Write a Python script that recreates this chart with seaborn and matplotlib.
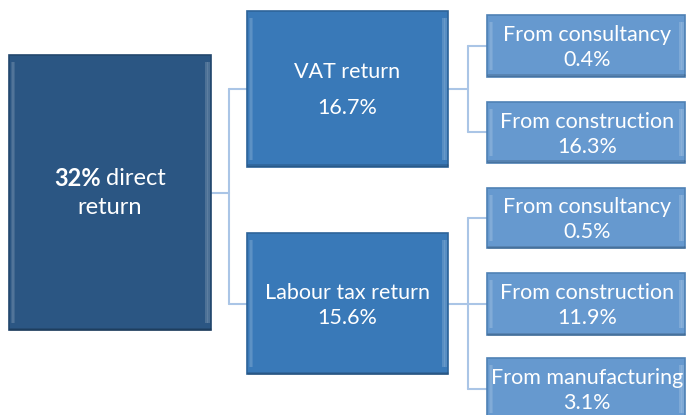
import matplotlib
matplotlib.use("Agg")
import matplotlib.pyplot as plt
import seaborn as sns
from matplotlib.patches import Rectangle

# values
root_value = 32
root_label = "direct\nreturn"
mid_labels = ["VAT return", "Labour tax return"]
mid_values = [16.7, 15.6]
leaf_labels = ["From consultancy", "From construction",
               "From consultancy", "From construction", "From manufacturing"]
leaf_values = [0.4, 16.3, 0.5, 11.9, 3.1]
leaf_parent = [0, 0, 1, 1, 1]

# layout in pixels (x0, y0, x1, y1)
root_box = (9, 55, 211, 330)
mid_boxes = [(247, 11, 448, 167), (247, 233, 448, 374)]
mid_text_dy = [(-17, 19), (-11, 14)]
leaf_boxes = [(487, 15, 685, 77), (487, 102, 685, 163),
              (487, 188, 685, 248), (487, 273, 685, 335),
              (487, 358, 685, 420)]

root_color = "#2b5683"
mid_color = "#3979b8"
leaf_color = "#6699cf"
line_color = "#aac5e6"
font = ["Lato", "DejaVu Sans"]

sns.set_style("white")
plt.rcParams["font.family"] = font

fig = plt.figure(figsize=(6.86, 4.15), dpi=100)
ax = fig.add_axes([0, 0, 1, 1])
ax.set_xlim(0, 686)
ax.set_ylim(415, 0)
ax.axis("off")


def draw_box(box, face, edge):
    x0, y0, x1, y1 = box
    ax.add_patch(Rectangle((x0, y0), x1 - x0, y1 - y0, facecolor=face,
                           edgecolor=edge, lw=1.2, zorder=2))
    # soft bevel highlights on the inner sides
    h = y1 - y0
    for k, a in enumerate([0.10, 0.18, 0.10]):
        ax.add_patch(Rectangle((x0 + 1.5 + k * 1.5, y0 + 7), 1.5, h - 14,
                               facecolor="white", alpha=a, lw=0, zorder=3))
        ax.add_patch(Rectangle((x1 - 6 + k * 1.5, y0 + 7), 1.5, h - 14,
                               facecolor="white", alpha=a + 0.06, lw=0,
                               zorder=3))
    ax.plot([x0 + 1, x1 - 1], [y1 - 1.5, y1 - 1.5], color="black", alpha=0.15,
            lw=2, zorder=3)


def center(box):
    return (box[0] + box[2]) / 2, (box[1] + box[3]) / 2


def elbow(parent, children):
    px, py = center(parent)
    xs = parent[2]
    xm = (parent[2] + children[0][0]) / 2
    ys = [center(c)[1] for c in children]
    ax.plot([xs, xm], [py, py], color=line_color, lw=1.5, zorder=1)
    ax.plot([xm, xm], [min(ys), max(ys)], color=line_color, lw=1.5, zorder=1)
    for c, y in zip(children, ys):
        ax.plot([xm, c[0]], [y, y], color=line_color, lw=1.5, zorder=1)


elbow(root_box, mid_boxes)
for i, mb in enumerate(mid_boxes):
    kids = [leaf_boxes[j] for j, p in enumerate(leaf_parent) if p == i]
    elbow(mb, kids)

draw_box(root_box, root_color, "#22476d")
for mb in mid_boxes:
    draw_box(mb, mid_color, "#2d6499")
for lb in leaf_boxes:
    draw_box(lb, leaf_color, "#4f81b5")

# root text: bold percentage followed by regular words
rx, ry = center(root_box)
first, second = root_label.split("\n")
fig.canvas.draw()
renderer = fig.canvas.get_renderer()
t1 = ax.text(0, 0, f"{root_value}%", fontsize=17, fontweight="bold",
             color="white", va="center", ha="left", zorder=5)
t2 = ax.text(0, 0, " " + first, fontsize=17, color="white", va="center",
             ha="left", zorder=5)
w1 = t1.get_window_extent(renderer).width
w2 = t2.get_window_extent(renderer).width
start = rx - (w1 + w2) / 2
t1.set_position((start, ry - 14))
t2.set_position((start + w1, ry - 14))
ax.text(rx, ry + 15, second, fontsize=17, color="white", ha="center",
        va="center", zorder=5)

for mb, lab, val, (d1, d2) in zip(mid_boxes, mid_labels, mid_values, mid_text_dy):
    cx, cy = center(mb)
    ax.text(cx, cy + d1, lab, fontsize=15.5, color="white", ha="center",
            va="center", zorder=5)
    ax.text(cx, cy + d2, f"{val}%", fontsize=15.5, color="white", ha="center",
            va="center", zorder=5)

for lb, lab, val in zip(leaf_boxes, leaf_labels, leaf_values):
    cx, cy = center(lb)
    ax.text(cx + 1, cy - 11, lab, fontsize=15.5, color="white", ha="center",
            va="center", zorder=5)
    ax.text(cx + 1, cy + 14, f"{val}%", fontsize=15.5, color="white",
            ha="center", va="center", zorder=5)

fig.savefig("out.png", dpi=100)
